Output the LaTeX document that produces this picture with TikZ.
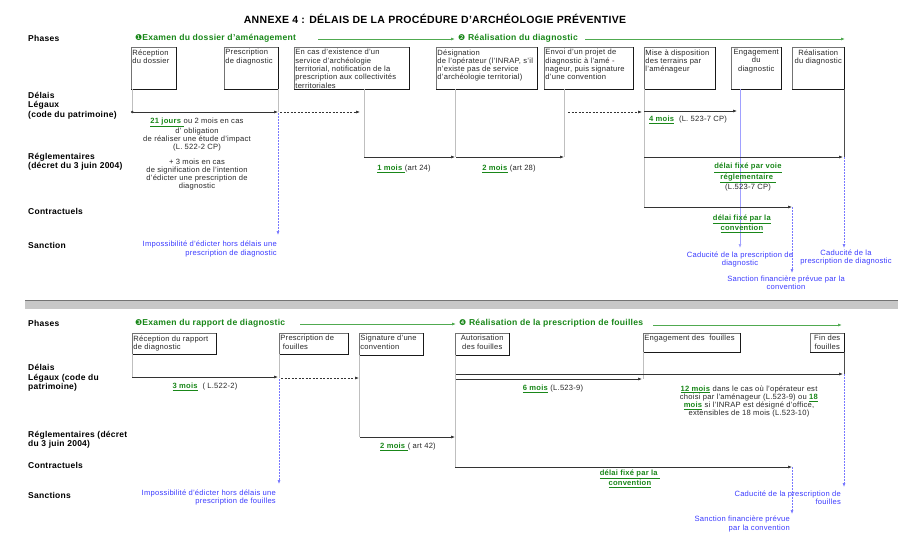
\documentclass[tikz,border=0pt]{standalone}
\usepackage{fontspec}
\setmainfont{Liberation Sans}[LetterSpace=3]
\newfontfamily\dv{DejaVu Sans}
\usetikzlibrary{arrows.meta}
\definecolor{gt}{RGB}{25,135,25}
\definecolor{gl}{RGB}{80,170,80}
\definecolor{bt}{RGB}{60,60,255}
\definecolor{bl}{RGB}{120,120,255}
\definecolor{tx}{RGB}{40,40,40}
\newcommand\ft{\fontsize{7.6}{8.3}\selectfont}
\newcommand\gu[1]{\textcolor{gt}{\underline{\textbf{#1}}}}
\newcommand\bxl[3]{\parbox[c][\dimexpr#2pt-2.4pt\relax][t]{\dimexpr#1pt-2.4pt\relax}{\vspace*{1pt}\raggedright#3}}
\newcommand\bxc[3]{\parbox[c][\dimexpr#2pt-2.4pt\relax][t]{\dimexpr#1pt-2.4pt\relax}{\vspace*{1pt}\centering#3}}
\newcommand\dg[1]{{\dv\mdseries\fontsize{8}{9}\selectfont #1}}
\begin{document}
\begin{tikzpicture}[x=1pt,y=-1pt,
 box/.style={draw=black!55,line width=0.5pt,inner sep=1.2pt,anchor=north west,font=\ft,text=tx},
 rowlab/.style={anchor=west,font=\fontsize{8.5}{9.4}\selectfont\bfseries,align=left,inner sep=0pt},
 note/.style={font=\ft,text=tx,align=center,inner sep=0pt},
 bnote/.style={font=\ft,text=bt,inner sep=0pt},
 phase/.style={anchor=west,font=\fontsize{8.6}{9.5}\selectfont\bfseries,text=gt,inner sep=0pt},
 arr/.style={-{Latex[length=4pt,width=3pt]},black!80,line width=0.6pt},
 darr/.style={arr,dash pattern=on 2pt off 1.5pt},
 garr/.style={-{Latex[length=4pt,width=3pt]},gl,line width=1pt},
 vl/.style={black!25,line width=0.5pt},
 bdash/.style={-{Latex[length=4pt,width=3pt]},bl,line width=0.6pt,dash pattern=on 2pt off 1pt},
 edge/.style={black!90,line width=0.8pt}
]
\useasboundingbox (0,0) rectangle (918,554);
\fill[white] (0,0) rectangle (918,554);

% title
\node[font=\fontsize{10.5}{12}\selectfont\bfseries] (title) at (435,19) {ANNEXE 4 : DÉLAIS DE LA PROCÉDURE D'ARCHÉOLOGIE PRÉVENTIVE};

% ================= TOP SECTION =================
\node[rowlab] (r1) at (28,38) {Phases};
\node[rowlab] (r2) at (28,105.5) {Délais\\Légaux\\(code du patrimoine)};
\node[rowlab] (r3) at (28,162) {Réglementaires\\(décret du 3 juin 2004)};
\node[rowlab] (r4) at (28,211) {Contractuels};
\node[rowlab] (r5) at (28,245) {Sanction};

\node[phase] (p1) at (135,38) {\dg{❶}Examen du dossier d'aménagement};
\node[phase] (p2) at (458,38) {\dg{❷} Réalisation du diagnostic};
\coordinate (g1s) at (318,39); \coordinate (g1e) at (455,39);
\coordinate (g2s) at (585,39); \coordinate (g2e) at (845,39);
\draw[garr] (g1s) -- (g1e);
\draw[garr] (g2s) -- (g2e);

\node[box] (t1) at (131,47) {\bxl{45}{42}{Réception\\du dossier}};
\node[box] (t2) at (224,47) {\bxl{54}{42}{Prescription\\de diagnostic}};
\node[box] (t3) at (294,47) {\bxl{115}{42}{En cas d'existence d'un\\service d'archéologie\\territorial, notification de la\\prescription aux collectivités\\territoriales}};
\node[box] (t4) at (436,47) {\bxl{101}{42}{Désignation\\de l'opérateur (l'INRAP, s'il\\n'existe pas de service\\d'archéologie territorial)}};
\node[box] (t5) at (544,47) {\bxl{89}{42}{Envoi d'un projet de\\diagnostic à l'amé -\\nageur, puis signature\\d'une convention}};
\node[box] (t6) at (644,47) {\bxl{71}{42}{Mise à disposition\\des terrains par\\l'aménageur}};
\node[box] (t7) at (731,47) {\bxc{50}{42}{Engagement\\du\\diagnostic}};
\node[box] (t8) at (792,47) {\bxc{52}{42}{Réalisation\\du diagnostic}};
\foreach \n in {t1,t2,t3,t4,t5,t6,t7,t8} \draw[edge] (\n.north east) -- (\n.south east) -- (\n.south west);

% top coordinates
\coordinate (v1a) at (132,89);  \coordinate (v1b) at (132,112);
\coordinate (v2a) at (278,89);  \coordinate (v2b) at (278,112);
\coordinate (v3a) at (364,89);  \coordinate (v3b) at (364,157);
\coordinate (v4a) at (455,89);  \coordinate (v4b) at (455,157);
\coordinate (v5a) at (564,89);  \coordinate (v5b) at (564,157);
\coordinate (v6a) at (644,89);  \coordinate (v6b) at (644,207);
\coordinate (v7a) at (740,89);  \coordinate (v7b) at (740,248);
\coordinate (v8a) at (844,89);  \coordinate (v8b) at (844,157);
\draw[vl] (v1a) -- (v1b);
\draw[vl] (v2a) -- (v2b);
\draw[vl] (v3a) -- (v3b);
\draw[vl] (v4a) -- (v4b);
\draw[vl] (v5a) -- (v5b);
\draw[vl] (v6a) -- (v6b);
\draw[black!70,line width=0.6pt] (v8a) -- (v8b);
\draw[-{Latex[length=4pt,width=3pt]},bl!70,line width=0.6pt] (v7a) -- (v7b);

\coordinate (a1s) at (131,112); \coordinate (a1e) at (278,112);
\coordinate (a2s) at (280,112); \coordinate (a2e) at (360,112);
\coordinate (a3s) at (364,157); \coordinate (a3e) at (455,157);
\coordinate (a4s) at (456,157); \coordinate (a4e) at (564,157);
\coordinate (a5s) at (568,112); \coordinate (a5e) at (642,112);
\coordinate (a6s) at (644,111); \coordinate (a6e) at (737,111);
\coordinate (a7s) at (644,157); \coordinate (a7e) at (843,157);
\coordinate (a8s) at (644,207); \coordinate (a8e) at (792,207);
\draw[arr,{Circle[length=2.5pt]}-{Latex[length=4pt,width=3pt]}] (a1s) -- (a1e);
\draw[darr] (a2s) -- (a2e);
\draw[arr] (a3s) -- (a3e);
\draw[arr] (a4s) -- (a4e);
\draw[darr] (a5s) -- (a5e);
\draw[arr] (a6s) -- (a6e);
\draw[arr] (a7s) -- (a7e);
\draw[arr] (a8s) -- (a8e);

\coordinate (s1a) at (278,113); \coordinate (s1b) at (278,235);
\coordinate (s2a) at (844,157); \coordinate (s2b) at (844,248);
\coordinate (s3a) at (792,207); \coordinate (s3b) at (792,273);
\draw[bdash] (s1a) -- (s1b);
\draw[bdash] (s2a) -- (s2b);
\draw[bdash] (s3a) -- (s3b);

\node[note] (n1) at (197,134.5) {\gu{21 jours }ou 2 mois en cas\\d' obligation\\de réaliser une étude d'impact\\(L. 522-2 CP)};
\node[note] (n2) at (197,174.5) {+ 3 mois en cas\\de signification de l'intention\\d'édicter une prescription de\\diagnostic};
\node[note] (n3) at (404,169) {\gu{1 mois }(art 24)};
\node[note] (n4) at (509,169) {\gu{2 mois} (art 28)};
\node[note] (n5) at (688,120) {\gu{4 mois} \ (L. 523-7 CP)};
\node[note] (n6) at (748,177) {\gu{délai fixé par voie}\\\gu{réglementaire }\\(L.523-7 CP)};
\node[note] (n7) at (742,223.5) {\gu{délai fixé par la}\\\gu{convention}};
\node[bnote,align=right,anchor=east] (b1) at (277,249) {Impossibilité d'édicter hors délais une\\prescription de diagnostic};
\node[bnote,align=center] (b2) at (740,259.5) {Caducité de la prescription de\\diagnostic};
\node[bnote,align=center] (b3) at (846,257.5) {Caducité de la\\prescription de diagnostic};
\node[bnote,align=center] (b4) at (786,282.5) {Sanction financière prévue par la\\convention};

% separator
\fill[black!22] (25,300) rectangle (898,309);
\draw[black!55,line width=0.8pt] (25,300) -- (898,300);

% ================= BOTTOM SECTION =================
\node[rowlab] (q1) at (28,323) {Phases};
\node[rowlab] (q2) at (28,378) {Délais\\Légaux (code du\\patrimoine)};
\node[rowlab] (q3) at (28,440) {Réglementaires (décret\\du 3 juin 2004)};
\node[rowlab] (q4) at (28,465) {Contractuels};
\node[rowlab] (q5) at (28,495) {Sanctions};

\node[phase] (p3) at (135,323) {\dg{❸}Examen du rapport de diagnostic};
\node[phase] (p4) at (459,323) {\dg{❹} Réalisation de la prescription de fouilles};
\coordinate (g3s) at (300,324); \coordinate (g3e) at (456,324);
\coordinate (g4s) at (653,325); \coordinate (g4e) at (842,325);
\draw[garr] (g3s) -- (g3e);
\draw[garr] (g4s) -- (g4e);

\node[box] (u1) at (132,333) {\bxl{84}{21}{Réception du rapport\\de diagnostic}};
\node[box] (u2) at (279,333) {\bxl{69}{21}{Prescription de\\\ fouilles}};
\node[box] (u3) at (359,333) {\bxl{64}{22}{Signature d'une\\convention}};
\node[box] (u4) at (455,333) {\bxc{54}{22}{Autorisation\\des fouilles}};
\node[box] (u5) at (643,333) {\bxl{97}{19}{Engagement des \ fouilles}};
\node[box] (u6) at (810,333) {\bxc{34}{19}{Fin des\\fouilles}};
\foreach \n in {u1,u2,u3,u4,u5,u6} \draw[edge] (\n.north east) -- (\n.south east) -- (\n.south west);

\coordinate (w1a) at (132,354); \coordinate (w1b) at (132,377);
\coordinate (w2a) at (279,354); \coordinate (w2b) at (279,378);
\coordinate (w3a) at (359,355); \coordinate (w3b) at (359,437);
\coordinate (w4a) at (455,355); \coordinate (w4b) at (455,467);
\coordinate (w5a) at (643,352); \coordinate (w5b) at (643,379);
\coordinate (w6a) at (844,352); \coordinate (w6b) at (844,374);
\draw[vl] (w1a) -- (w1b);
\draw[vl] (w2a) -- (w2b);
\draw[vl] (w3a) -- (w3b);
\draw[vl] (w4a) -- (w4b);
\draw[vl] (w5a) -- (w5b);
\draw[black!70,line width=0.6pt] (w6a) -- (w6b);

\coordinate (c1s) at (132,377); \coordinate (c1e) at (278,377);
\coordinate (c2s) at (281,378); \coordinate (c2e) at (359,378);
\coordinate (c3s) at (360,437); \coordinate (c3e) at (455,437);
\coordinate (c4s) at (456,374); \coordinate (c4e) at (843,374);
\coordinate (c5s) at (456,379); \coordinate (c5e) at (642,379);
\coordinate (c6s) at (455,467); \coordinate (c6e) at (792,467);
\draw[arr] (c1s) -- (c1e);
\draw[darr] (c2s) -- (c2e);
\draw[arr] (c3s) -- (c3e);
\draw[arr] (c4s) -- (c4e);
\draw[arr] (c5s) -- (c5e);
\draw[arr] (c6s) -- (c6e);

\coordinate (x1a) at (279,379); \coordinate (x1b) at (279,484);
\coordinate (x2a) at (844,374); \coordinate (x2b) at (844,487);
\coordinate (x3a) at (792,467); \coordinate (x3b) at (792,514);
\draw[bdash] (x1a) -- (x1b);
\draw[bdash] (x2a) -- (x2b);
\draw[bdash] (x3a) -- (x3b);

\node[note] (m1) at (205,387) {\gu{3 mois} \ ( L.522-2)};
\node[note] (m2) at (408,447) {\gu{2 mois }( art 42)};
\node[note] (m3) at (553,389) {\gu{6 mois} (L.523-9)};
\node[note] (m4) at (749,401.5) {\gu{12 mois} dans le cas où l'opérateur est\\choisi par l'aménageur (L.523-9) ou \gu{18}\\\gu{mois} si l'INRAP est désigné d'office,\\extensibles de 18 mois (L.523-10)};
\node[note] (m5) at (630,478.5) {\gu{délai fixé par la }\\\gu{convention}};
\node[bnote,align=right,anchor=east] (e1) at (276,497.5) {Impossibilité d'édicter hors délais une\\prescription de fouilles};
\node[bnote,align=right,anchor=east] (e2) at (841,497.5) {Caducité de la prescription de\\fouilles};
\node[bnote,align=right,anchor=east] (e3) at (790,524) {Sanction financière prévue\\par la convention};
\end{tikzpicture}
\end{document}
